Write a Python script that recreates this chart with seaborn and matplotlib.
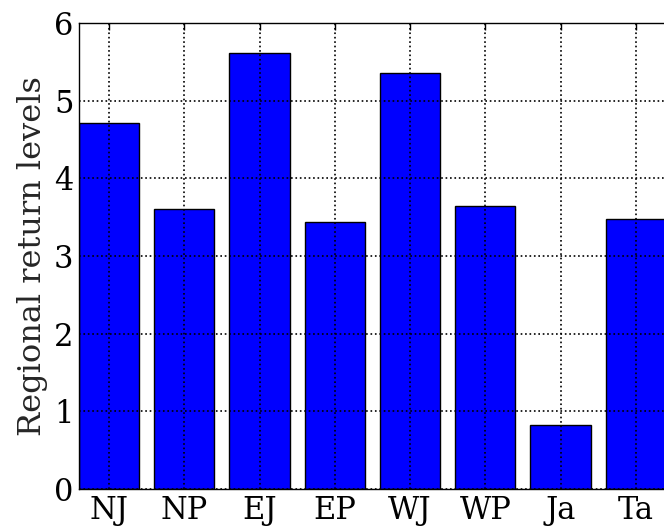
import matplotlib
matplotlib.use("Agg")
import matplotlib.pyplot as plt
import seaborn as sns
import pandas as pd

# Regional return levels per region
regions = ["NJ", "NP", "EJ", "EP", "WJ", "WP", "Ja", "Ta"]
return_levels = [4.71, 3.61, 5.61, 3.44, 5.35, 3.65, 0.83, 3.48]
y_ticks = [0, 1, 2, 3, 4, 5, 6]

sns.set_theme(style="white")
plt.rcParams["font.family"] = ["DejaVu Serif"]
plt.rcParams["mathtext.fontset"] = "dejavuserif"

df = pd.DataFrame({"region": regions, "level": return_levels})

fig = plt.figure(figsize=(6.64, 5.26), dpi=100)
ax = fig.add_axes([79 / 664, 1 - 489 / 526, 602 / 664, 466 / 526])

sns.barplot(data=df, x="region", y="level", color="#0000ff", saturation=1,
            width=0.8, edgecolor="black", linewidth=1.0, ax=ax)

ax.set_xlim(-0.4, 7.6)
ax.set_ylim(0, 6)
ax.set_yticks(y_ticks)
ax.set_xlabel("")
ax.set_ylabel("Regional return levels", fontsize=23, labelpad=4)

ax.set_axisbelow(False)
ax.grid(True, color="black", linestyle=":", linewidth=1.2)

ax.tick_params(axis="both", which="major", direction="in", length=5, width=1,
               top=True, right=True, labelsize=22, pad=4, colors="black")
for spine in ax.spines.values():
    spine.set_visible(True)
    spine.set_color("black")
    spine.set_linewidth(1.0)

fig.savefig("out.png", dpi=100)
